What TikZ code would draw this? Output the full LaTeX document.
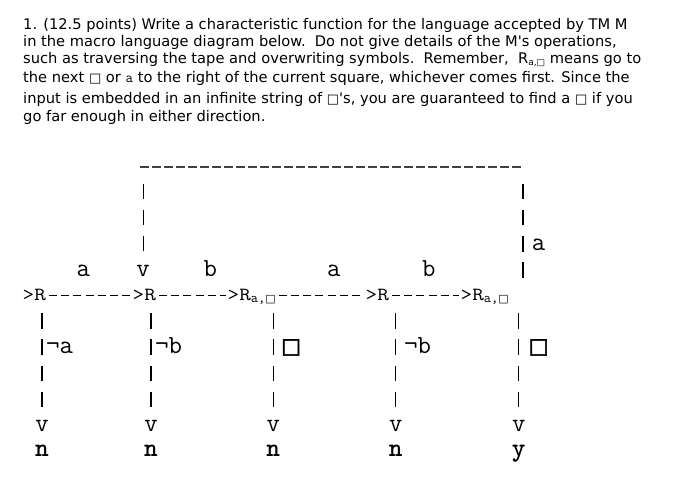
\documentclass[tikz,border=0pt]{standalone}
\usepackage{fontspec}
\usepackage{tikz}
\setmainfont{DejaVu Sans}
\newfontfamily\squareFont{DejaVu Sans}
\newfontfamily\heavySquareFont{DejaVu Sans}[FakeBold=2.5]
\newcommand{\blankSq}[0]{{\squareFont □}}
\newcommand{\textSq}[0]{{\fontsize{13}{13}\squareFont □}}
\newcommand{\heavySq}[0]{{\heavySquareFont □}}
\newcommand{\tapeStretch}[0]{1.22}
\newcommand{\wideTT}[1]{\scalebox{\tapeStretch}[1]{#1}}
\newcommand{\seekText}[0]{R\raisebox{-2.5pt}{\fontsize{9}{9}\selectfont a,\blankSq}}
\newcommand{\seekTape}[0]{\wideTT{>R}\raisebox{-2pt}{\fontsize{14}{14}\selectfont a,\fontsize{11}{11}\selectfont\blankSq}}

\begin{document}
\begin{tikzpicture}[x=1pt, y=-1pt]
  \tikzset{
    prose/.style={anchor=base west, inner sep=0pt, font=\fontsize{14.65}{17}\selectfont},
    tape/.style={anchor=base west, inner sep=0pt, text height=11pt, text depth=0pt, font=\fontsize{18.5}{20}\selectfont\ttfamily},
    lbl/.style={anchor=base, inner sep=0pt, font=\fontsize{26}{26}\selectfont\ttfamily},
    halt/.style={anchor=base, inner sep=0pt, font=\fontsize{26}{26}\selectfont\ttfamily\bfseries},
    sq/.style={anchor=base west, inner sep=0pt, font=\fontsize{21}{21}\selectfont},
    hdash/.style={line width=1.1pt, dash pattern=on 8pt off 4.15pt, shorten <=3pt, shorten >=2pt},
    vdash/.style={line width=1.3pt, dash pattern=on 15.5pt off 10.7pt},
    topdash/.style={line width=2.2pt, draw=black!75, dash pattern=on 9pt off 3pt}
  }
  \useasboundingbox (0,0) rectangle (689,488);

  % the question
  \node[prose] (q1) at (23,29.3) {1. (12.5 points) Write a characteristic function for the language accepted by TM M};
  \node[prose] (q2) at (23,46) {in the macro language diagram below.~~Do not give details of the M\textquotesingle s operations,};
  \node[prose] (q3) at (23,63.3) {such as traversing the tape and overwriting symbols.~~Remember,~~\seekText{} means go to};
  \node[prose] (q4) at (23,82.3) {the next \textSq{} or {\ttfamily a} to the right of the current square, whichever comes first. Since the};
  \node[prose] (q5) at (23,103.3) {input is embedded in an infinite string of \textSq\textquotesingle s, you are guaranteed to find a \textSq{} if you};
  \node[prose] (q6) at (23,121.7) {go far enough in either direction.};

  % machine row
  \node[tape] (r1) at (22.5,300.7) {\wideTT{>R}};
  \node[tape] (r2) at (132.5,300.7) {\wideTT{>R}};
  \node[tape] (r3) at (227.5,300.7) {\seekTape};
  \node[tape] (r4) at (365.5,300.7) {\wideTT{>R}};
  \node[tape] (r5) at (460.5,300.7) {\seekTape};

  \draw[hdash] (r1.east) -- (r2.west);
  \draw[hdash] (r2.east) -- (r3.west);
  \draw[hdash] (r3.east) -- (r4.west);
  \draw[hdash] (r4.east) -- (r5.west);

  \node[lbl] (ra) at (83.3,276) {a};
  \node[lbl] (tip) at (143,276) {v};
  \node[lbl] (rb) at (210.3,276) {b};
  \node[lbl] (sa) at (333.8,276) {a};
  \node[lbl] (sb) at (428.8,276) {b};

  % loop back to the second R
  \coordinate (riseR) at (523,174);
  \coordinate (cornerL) at (140,167);
  \coordinate (cornerR) at (521,167);
  \coordinate (dropL) at (143.5,183.5);
  \draw[vdash, shorten <=11.7pt] (riseR |- r5.north) -- (riseR);
  \draw[topdash] (cornerL) -- (cornerR);
  \draw[vdash, shorten >=4pt] (dropL) -- (dropL |- tip.north);
  \node[lbl] (la) at (538.5,250) {a};

  % halting branches
  \node[lbl] (h1) at (42,431.7) {v};
  \node[lbl] (h2) at (151,431.7) {v};
  \node[lbl] (h3) at (273.3,431.7) {v};
  \node[lbl] (h4) at (395.7,431.7) {v};
  \node[lbl] (h5) at (518.7,431.7) {v};
  \node[halt] (o1) at (42,456.7) {n};
  \node[halt] (o2) at (151,456.7) {n};
  \node[halt] (o3) at (273.3,456.7) {n};
  \node[halt] (o4) at (395.7,456.7) {n};
  \node[halt] (o5) at (518.7,456.7) {y};

  \draw[vdash, shorten <=12.3pt, shorten >=4pt] (h1 |- r1.south) -- (h1.north);
  \draw[vdash, shorten <=12.3pt, shorten >=4pt] (h2 |- r2.south) -- (h2.north);
  \draw[vdash, shorten <=12.3pt, shorten >=4pt] (h3 |- r3.south) -- (h3.north);
  \draw[vdash, shorten <=12.3pt, shorten >=4pt] (h4 |- r4.south) -- (h4.north);
  \draw[vdash, shorten <=12.3pt, shorten >=4pt] (h5 |- r5.south) -- (h5.north);

  \node[lbl, anchor=base west] (na) at (46,353.3) {¬a};
  \node[lbl, anchor=base west] (nb) at (155,353.3) {¬b};
  \node[sq] (nsq) at (281,353) {\heavySq};
  \node[lbl, anchor=base west] (nb2) at (404,353.3) {¬b};
  \node[sq] (nsq2) at (528.5,353) {\heavySq};
\end{tikzpicture}
\end{document}
